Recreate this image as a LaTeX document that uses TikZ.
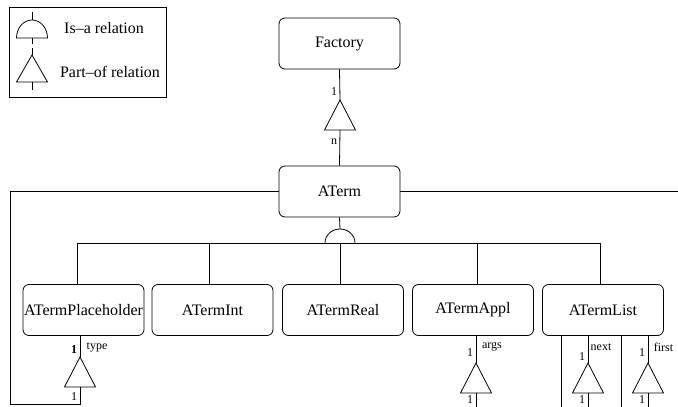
\documentclass[tikz,border=0pt]{standalone}
\usepackage{fontspec}
\setmainfont{Liberation Serif}
\usetikzlibrary{calc}
\tikzset{
  cls/.style={draw, rounded corners=6pt, minimum width=121pt, minimum height=51pt,
    inner sep=0pt, font=\fontsize{16}{18}\selectfont},
  lbl/.style={inner sep=0pt, font=\fontsize{12}{14}\selectfont},
  leg/.style={inner sep=0pt, font=\fontsize{16}{18}\selectfont},
  partof/.pic={
    \draw (0,0) -- (-15.5,30) -- (15.5,30) -- cycle;
    \coordinate (-top) at (0,0);
    \coordinate (-bot) at (0,30);
  }
}
\begin{document}
\begin{tikzpicture}[x=1pt, y=-1pt, line width=0.8pt, line join=miter]
\useasboundingbox (0,0) rectangle (678,407);

% legend
\node[draw, minimum width=157pt, minimum height=90pt, inner sep=0pt] (legend) at (87.5,52) {};
\coordinate (lga) at (32,12);
\coordinate (lgb) at (32,20);
\coordinate (lgc) at (32,38);
\coordinate (lgd) at (32,44);
\coordinate (lge) at (32,48);
\coordinate (lgf) at (32,55);
\coordinate (lgg) at (32,82);
\coordinate (lgh) at (32,90);
\draw (lga) -- (lgb);
\draw ($(lgc)+(-15.5,0)$) arc[start angle=180, end angle=0, x radius=15.5pt, y radius=18pt] -- cycle;
\draw (lgc) -- (lgd);
\draw (lge) -- (lgf);
\draw (lgf) -- ($(lgg)+(-15.5,0)$) -- ($(lgg)+(15.5,0)$) -- cycle;
\draw (lgg) -- (lgh);
\node[leg] (isalbl) at (104,28) {Is--a relation};
\node[leg] (partlbl) at (110,72) {Part--of relation};

% classes
\node[cls] (factory) at (339.5,43.5) {Factory};
\node[cls] (aterm) at (339.5,191.5) {ATerm};
\node[cls] (ph) at (83.5,310) {ATermPlaceholder};
\node[cls] (int) at (212.5,310) {ATermInt};
\node[cls] (real) at (343,310) {ATermReal};
\node[cls] (appl) at (473,310) {ATermAppl};
\node[cls] (list) at (603,310) {ATermList};

% Factory -- ATerm part-of
\pic (tf) at (340,100) {partof};
\draw (factory.south) -- (tf-top);
\draw (tf-bot) -- (aterm.north);
\node[lbl] (tf1) at (334,92) {1};
\node[lbl] (tfn) at (334,142) {n};

% is-a hierarchy
\coordinate (isa) at (340,243);
\coordinate (isatop) at (340,229);
\draw (aterm.south) -- (isatop);
\draw ($(isa)+(-15,0)$) arc[start angle=180, end angle=0, x radius=15pt, y radius=14pt];
\draw ([xshift=-6.5pt]ph.north) |- (isa);
\draw ([xshift=-3.5pt]int.north) |- (isa);
\draw ([xshift=-3pt]real.north) -- (isa);
\draw ([xshift=4pt]appl.north) |- (isa);
\draw ([xshift=-3pt]list.north) |- (isa);

% ATerm loops
\coordinate (rend) at (678,191.5);
\draw (aterm.east) -- (rend);
\coordinate (lcorner) at (10,404);

% ATermPlaceholder type
\pic (tp) at (80,357) {partof};
\draw (ph.south -| tp-top) -- (tp-top);
\draw (aterm.west) -| (lcorner) -| (tp-bot);
\node[lbl] (tp1) at (74,350) {\textbf{1}};
\node[lbl] (tpt) at (97,347) {type};
\node[lbl] (tp2) at (74,397) {1};

% ATermAppl args
\coordinate (bottom) at (0,407);
\pic (ta) at (476,363) {partof};
\draw (appl.south -| ta-top) -- (ta-top);
\draw (ta-bot) -- (ta-bot |- bottom);
\node[lbl] (ta1) at (470,353) {1};
\node[lbl] (tat) at (492,347) {args};
\node[lbl] (ta2) at (470,400) {1};

% ATermList next / first
\coordinate (lv1) at (561,336);
\coordinate (lv2) at (621,336);
\draw (lv1) -- (lv1 |- bottom);
\draw (lv2) -- (lv2 |- bottom);
\pic (tn) at (588,363) {partof};
\draw (list.south -| tn-top) -- (tn-top);
\draw (tn-bot) -- (tn-bot |- bottom);
\node[lbl] (tn1) at (582,357) {1};
\node[lbl] (tnt) at (601,347) {next};
\node[lbl] (tn2) at (582,400) {1};
\pic (tr) at (648,363) {partof};
\draw (list.south -| tr-top) -- (tr-top);
\draw (tr-bot) -- (tr-bot |- bottom);
\node[lbl] (tr1) at (642,353) {1};
\node[lbl] (trt) at (663.5,347) {first};
\node[lbl] (tr2) at (642,400) {1};
\end{tikzpicture}
\end{document}
